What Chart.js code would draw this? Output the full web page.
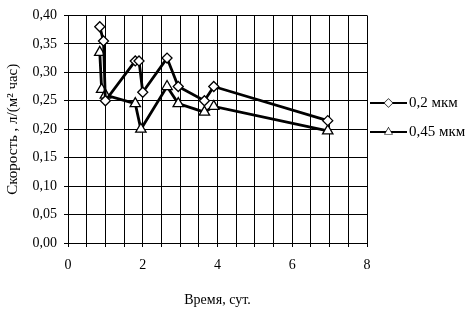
<!DOCTYPE html>
<html>
<head>
<meta charset="utf-8">
<script src="https://cdn.jsdelivr.net/npm/chart.js@4/dist/chart.umd.min.js"></script>
<style>
html,body{margin:0;padding:0;background:#fff;}
#wrap{width:473px;height:312px;}
</style>
</head>
<body>
<div id="wrap"><canvas id="c" width="473" height="312"></canvas></div>
<script>
const seriesNames = ["0,2 мкм", "0,45 мкм"];
const days1 = [0.85, 0.95, 1.0, 1.8, 1.9, 2.0, 2.65, 2.95, 3.65, 3.9, 6.95];
const speed1 = [0.38, 0.355, 0.25, 0.32, 0.32, 0.265, 0.325, 0.275, 0.25, 0.275, 0.215];
const days2 = [0.85, 0.9, 1.0, 1.8, 1.95, 2.65, 2.95, 3.65, 3.9, 6.95];
const speed2 = [0.335, 0.27, 0.26, 0.245, 0.20, 0.275, 0.245, 0.23, 0.24, 0.197];
const xTickLabels = [0, 2, 4, 6, 8];
const xTitle = "Время, сут.";
const yTitle = "Скорость , л/(м² час)";

const FONT = "'Liberation Serif', 'Times New Roman', serif";

const legendPlugin = {
  id: 'sideLegend',
  afterDraw(chart) {
    const ctx = chart.ctx;
    const ca = chart.chartArea;
    const x0 = ca.right + 3, x1 = ca.right + 40;
    const ys = [103, 132];
    chart.data.datasets.forEach((ds, i) => {
      const y = ys[i];
      ctx.save();
      ctx.strokeStyle = '#000';
      ctx.lineWidth = 2;
      ctx.beginPath();
      ctx.moveTo(x0, y); ctx.lineTo(x1, y); ctx.stroke();
      ctx.fillStyle = '#fff';
      ctx.lineWidth = 1.2;
      Chart.helpers.drawPoint(ctx, {pointStyle: ds.pointStyle, radius: 4, borderWidth: 1.2, rotation: 0}, (x0 + x1) / 2, y);
      ctx.fill();
      ctx.fillStyle = '#000';
      ctx.font = "15px " + FONT;
      ctx.textBaseline = 'middle';
      ctx.textAlign = 'left';
      ctx.fillText(ds.label, x1 + 2, y);
      ctx.restore();
    });
  }
};

new Chart(document.getElementById('c'), {
  type: 'line',
  data: {
    datasets: [
      {
        label: seriesNames[0],
        data: days1.map((d, i) => ({x: d, y: speed1[i]})),
        borderColor: '#000', borderWidth: 2.8,
        pointStyle: 'rectRot', pointRadius: 5,
        pointBackgroundColor: '#fff', pointBorderColor: '#000', pointBorderWidth: 1.3,
        tension: 0, fill: false
      },
      {
        label: seriesNames[1],
        data: days2.map((d, i) => ({x: d, y: speed2[i]})),
        borderColor: '#000', borderWidth: 2.8,
        pointStyle: 'triangle', pointRadius: 6,
        pointBackgroundColor: '#fff', pointBorderColor: '#000', pointBorderWidth: 1.3,
        tension: 0, fill: false
      }
    ]
  },
  options: {
    responsive: false,
    animation: false,
    devicePixelRatio: 1,
    layout: {padding: {top: 5, right: 106, left: 0, bottom: 0}},
    plugins: {legend: {display: false}, tooltip: {enabled: false}},
    scales: {
      x: {
        type: 'linear', min: 0, max: 8,
        afterFit: s => { s.height = 69; },
        grid: {color: '#000', lineWidth: 1, tickLength: 4, tickColor: '#000'},
        border: {color: '#000', width: 1},
        ticks: {
          stepSize: 0.5, autoSkip: false, maxRotation: 0, padding: 10,
          color: '#000', font: {family: FONT, size: 14},
          callback: v => xTickLabels.includes(v) ? String(v) : ''
        },
        title: {display: true, text: xTitle, color: '#000', font: {family: FONT, size: 14}, padding: {top: 0, bottom: 3}}
      },
      y: {
        type: 'linear', min: 0, max: 0.4,
        afterFit: s => { s.width = 68; },
        grid: {color: '#000', lineWidth: 1, tickLength: 4, tickColor: '#000'},
        border: {color: '#000', width: 1},
        ticks: {
          stepSize: 0.05, padding: 7,
          color: '#000', font: {family: FONT, size: 14},
          callback: v => v.toFixed(2).replace('.', ',')
        },
        title: {display: true, text: yTitle, color: '#000', font: {family: FONT, size: 15}, padding: {top: 4, bottom: 0}}
      }
    }
  },
  plugins: [legendPlugin]
});
</script>
</body>
</html>
